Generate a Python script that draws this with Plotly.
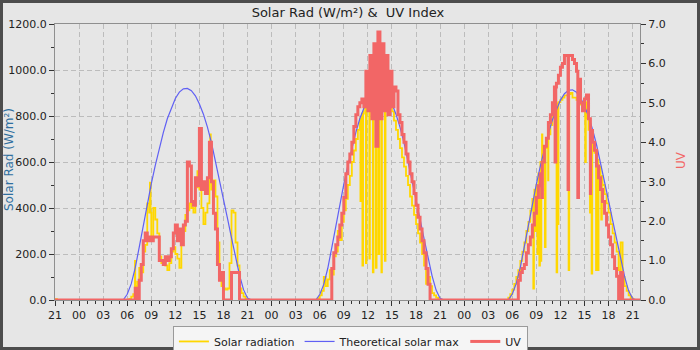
import plotly.graph_objects as go
import pandas as pd

# ---------------- data ----------------
START = "2024-06-20 21:00"
END = "2024-06-23 21:55"

# theoretical solar max (W/m²), 30-min steps from 05:30 to 21:30
theo_start = ["2024-06-21 05:30", "2024-06-22 05:30", "2024-06-23 05:30"]
theo_day1 = [0, 25, 70, 140, 230, 325, 420, 505, 585, 660, 728, 788, 836, 876, 904, 918,
             920, 910, 888, 852, 808, 752, 684, 605, 525, 440, 355, 270, 185, 108, 45, 8, 0]
theo_day2 = [0, 24, 68, 138, 228, 323, 418, 504, 584, 660, 729, 789, 838, 878, 906, 920,
             922, 912, 889, 853, 808, 752, 684, 604, 523, 438, 352, 267, 182, 105, 43, 7, 0]
theo_day3 = [0, 26, 72, 142, 232, 326, 420, 504, 583, 657, 724, 783, 830, 869, 897, 912,
             914, 903, 880, 843, 798, 742, 675, 597, 517, 432, 347, 262, 178, 102, 40, 6, 0]

# solar radiation (W/m²): 15-min readings plus short 5-min excursions (cloud dips / spikes)
solar_start = ["2024-06-20 21:00", "2024-06-21 06:00", "2024-06-22 05:30", "2024-06-23 05:15"]
solar_day0 = [4, 0]
solar_day1 = [0, 5, 15, 25,            # 06
              60, 80, 140, 120,        # 07
              210, 240, 420, 380,      # 08
              260, 400, 350, 290,      # 09
              190, 160, 170, 150,      # 10
              130, 160, 210, 230,      # 11
              200, 180, 140, 280,      # 12
              300, 370, 390, 420,      # 13
              400, 380, 490, 560,      # 14
              480, 400, 330, 380,      # 15
              420, 520, 480, 520,      # 16
              450, 250, 90, 60,        # 17
              50, 45, 50, 160,         # 18
              390, 380, 250, 150,      # 19
              50, 30, 15, 5,           # 20
              0]
solar_day2 = [0, 8,                    # 05:30
              20, 40, 100, 60,         # 06
              90, 130, 110, 190,       # 07
              210, 300, 260, 340,      # 08
              390, 440, 500, 540,      # 09
              600, 650, 700, 740,      # 10
              790, 810, 850, 930,      # 11
              870, 960, 900, 1000,     # 12
              880, 940, 900, 980,      # 13
              880, 900, 860, 840,      # 14
              820, 780, 740, 700,      # 15
              660, 620, 580, 540,      # 16
              500, 450, 410, 370,      # 17
              330, 290, 250, 200,      # 18
              150, 70, 100, 60,        # 19
              30, 20, 10, 3,           # 20
              0]
solar_day3 = [0, 10, 25,               # 05:15
              45, 70, 100, 130,        # 06
              170, 210, 250, 300,      # 07
              340, 390, 440, 480,      # 08
              500, 550, 600, 640,      # 09
              660, 700, 720, 760,      # 10
              830, 850, 855, 860,      # 11
              870, 880, 890, 890,      # 12
              895, 900, 880, 880,      # 13
              870, 860, 850, 830,      # 14
              860, 790, 740, 720,      # 15
              680, 640, 610, 580,      # 16
              540, 500, 460, 420,      # 17
              380, 330, 290, 250,      # 18
              210, 130, 250, 100,      # 19
              60, 40, 20, 8,           # 20
              0]
solar_excursions_day1 = [("06:58", 170), ("08:50", 510), ("14:57", 740), ("16:20", 720)]
solar_excursions_day2 = [("11:04", 430), ("11:19", 150), ("11:45", 160), ("12:11", 180),
                         ("12:37", 120), ("13:00", 140), ("13:10", 1090), ("13:20", 200),
                         ("13:41", 120), ("14:07", 170)]
solar_excursions_day3 = [("08:37", 50), ("08:55", 300), ("09:08", 200), ("09:22", 150),
                         ("09:32", 170), ("09:42", 720), ("10:04", 230), ("10:28", 520),
                         ("11:31", 120), ("11:43", 330), ("13:01", 130), ("15:05", 600),
                         ("15:41", 380), ("15:53", 115), ("16:26", 130), ("16:43", 130),
                         ("17:05", 350)]

# UV index: 15-min readings plus short 5-min dips
uv_start = ["2024-06-21 06:00", "2024-06-22 07:00", "2024-06-23 06:30"]
uv_day1 = [0, 0, 0, 0,                 # 06
           0.3, 0, 0.5, 0.9,           # 07
           1.5, 1.7, 1.5, 1.6,         # 08
           1.5, 1.6, 1.6, 1.6,         # 09
           1.0, 1.0, 0.9, 1.1,         # 10
           1.0, 1.1, 1.3, 1.7,         # 11
           1.9, 1.5, 1.8, 1.4,         # 12
           1.9, 2.0, 3.5, 3.4,         # 13
           2.5, 2.4, 3.1, 2.9,         # 14
           4.35, 2.8, 3.0, 2.7,        # 15
           3.1, 4.0, 3.0, 2.2,         # 16
           1.8, 0.9, 0.5, 0.7,         # 17
           0, 0, 0, 0,                 # 18
           0.7, 0.7, 0.7, 0.7,         # 19
           0, 0, 0, 0,                 # 20
           0]
uv_day2 = [0, 0, 0.8, 1.2,             # 07
           1.4, 1.6, 1.9, 2.2,         # 08
           2.6, 3.2, 3.5, 3.7,         # 09
           4.0, 4.4, 4.7, 4.9,         # 10
           5.0, 5.1, 4.9, 5.8,         # 11
           4.8, 6.2, 4.6, 6.5,         # 12
           3.9, 6.8, 4.6, 6.5,         # 13
           4.8, 6.2, 4.7, 5.8,         # 14
           4.9, 5.4, 5.3, 4.7,         # 15
           4.5, 4.2, 4.0, 3.7,         # 16
           3.5, 3.2, 3.0, 2.7,         # 17
           2.4, 2.1, 1.8, 1.5,         # 18
           1.2, 0.8, 0.4, 0,           # 19
           0]
uv_day3 = [0, 0.5,                     # 06:30
           0.7, 0.8, 0.9, 1.2,         # 07
           1.4, 1.6, 1.9, 2.2,         # 08
           2.6, 2.9, 3.2, 3.5,         # 09
           3.9, 4.1, 4.5, 4.7,         # 10
           5.0, 5.4, 5.5, 5.7,         # 11
           5.9, 6.0, 6.2, 6.2,         # 12
           6.2, 6.2, 6.1, 6.0,         # 13
           5.8, 5.6, 5.0, 4.8,         # 14
           5.1, 5.2, 4.6, 4.3,         # 15
           4.0, 3.8, 3.4, 3.1,         # 16
           2.8, 2.5, 2.2, 1.9,         # 17
           1.6, 1.4, 1.1, 0.8,         # 18
           0.6, 0, 0.7, 0,             # 19
           0]
uv_dips_day3 = [("09:40", 2.6), ("11:20", 3.5), ("12:57", 2.8), ("14:10", 2.6), ("15:44", 2.7)]


# ---------------- build series ----------------
def with_excursions(start, vals, excursions=(), freq="15min", length_min=5):
    base = pd.Series(vals, index=pd.date_range(start, periods=len(vals), freq=freq), dtype=float)
    day = base.index[0].strftime("%Y-%m-%d")
    extra = {}
    for hhmm, v in excursions:
        t0 = pd.Timestamp(f"{day} {hhmm}")
        extra[t0] = v
    for hhmm, v in excursions:
        t1 = pd.Timestamp(f"{day} {hhmm}") + pd.Timedelta(minutes=length_min)
        if t1 not in base.index and t1 not in extra:
            extra[t1] = base[base.index <= t1].iloc[-1]
    merged = base.drop(index=[k for k in extra if k in base.index])
    merged = pd.concat([merged, pd.Series(extra, dtype=float)]).sort_index()
    return list(merged.index), list(merged.values)


def join(parts, gaps=True):
    xs, ys = [], []
    for px, py in parts:
        xs.extend(px)
        ys.extend(py)
        if gaps:
            xs.append(px[-1] + pd.Timedelta(minutes=1))
            ys.append(None)
    return xs, ys


theo_x, theo_y = join([with_excursions(s, v, freq="30min")
                       for s, v in zip(theo_start, [theo_day1, theo_day2, theo_day3])])
solar_x, solar_y = join([
    with_excursions(solar_start[0], solar_day0),
    with_excursions(solar_start[1], solar_day1, solar_excursions_day1),
    with_excursions(solar_start[2], solar_day2, solar_excursions_day2),
    with_excursions(solar_start[3], solar_day3, solar_excursions_day3),
])
uv_x, uv_y = join([
    with_excursions(uv_start[0], uv_day1),
    with_excursions(uv_start[1], uv_day2),
    with_excursions(uv_start[2], uv_day3, uv_dips_day3),
], gaps=False)
uv_x = [pd.Timestamp(START)] + uv_x + [pd.Timestamp(END)]
uv_y = [0] + uv_y + [0]

YELLOW = "#ffd700"
BLUE = "#6060f4"
RED = "#f26666"
FONT = "DejaVu Sans"

fig = go.Figure()
fig.add_trace(go.Scatter(
    x=uv_x, y=uv_y, name="UV", yaxis="y2", mode="lines",
    line=dict(color=RED, width=3, shape="hv"), legendrank=3))
fig.add_trace(go.Scatter(
    x=solar_x, y=solar_y, name="Solar radiation", mode="lines",
    line=dict(color=YELLOW, width=1.8, shape="hv"), connectgaps=False, legendrank=1))
fig.add_trace(go.Scatter(
    x=theo_x, y=theo_y, name="Theoretical solar max", mode="lines",
    line=dict(color=BLUE, width=1.2), connectgaps=False, legendrank=2))

axis_common = dict(
    showline=True, linecolor="#8f8f8f", linewidth=1,
    ticks="outside", ticklen=5, tickcolor="#333", tickwidth=1,
    tickfont=dict(family=FONT, size=11, color="#222"),
    zeroline=False,
)

fig.update_layout(
    width=700, height=350,
    margin=dict(l=55, r=60, t=24, b=50, autoexpand=False),
    paper_bgcolor="#e6e6e6", plot_bgcolor="#e6e6e6",
    font=dict(family=FONT, size=11, color="#222"),
    title=dict(text="Solar Rad (W/m²) & \u00a0UV Index", x=0.497, xanchor="center",
               y=1 - 12 / 350, yanchor="middle", yref="container",
               font=dict(family=FONT, size=13, color="#222")),
    xaxis=dict(
        type="date", range=[START, END], tick0=START, dtick=3 * 3600 * 1000,
        tickformat="%H", showgrid=True, gridcolor="#bcbcbc", griddash="5px,3px",
        mirror=True,
        minor=dict(dtick=3600 * 1000, ticklen=3, tickcolor="#333", showgrid=False, ticks="outside"),
        **axis_common),
    yaxis=dict(
        range=[0, 1200], dtick=200, tickformat=".1f",
        showgrid=True, gridcolor="#bcbcbc", griddash="5px,3px",
        minor=dict(dtick=100, ticklen=3, tickcolor="#333", showgrid=False, ticks="outside"),
        **axis_common),
    yaxis2=dict(
        overlaying="y", side="right", range=[0, 7], dtick=1, tickformat=".1f",
        showgrid=False,
        minor=dict(dtick=0.5, ticklen=3, tickcolor="#333", showgrid=False, ticks="outside"),
        **axis_common),
    legend=dict(
        orientation="h", x=0.505, xanchor="center", y=-0.094, yanchor="top",
        bgcolor="#f5f5f5", bordercolor="#9a9a9a", borderwidth=1,
        font=dict(family=FONT, size=11, color="#222")),
    showlegend=True,
    annotations=[
        dict(text="Solar Rad (W/m²)", xref="paper", yref="paper",
             x=(9 - 55) / 585, y=(300 - 160) / 276, xanchor="center", yanchor="middle",
             textangle=-90, showarrow=False, font=dict(family=FONT, size=12, color="#2f6f9f")),
        dict(text="UV", xref="paper", yref="paper",
             x=(681 - 55) / 585, y=(300 - 160) / 276, xanchor="center", yanchor="middle",
             textangle=-90, showarrow=False, font=dict(family=FONT, size=12, color=RED)),
    ],
    shapes=[
        dict(type="rect", xref="paper", yref="paper", layer="above",
             x0=(1.5 - 55) / 585, x1=(698.5 - 55) / 585,
             y0=(300 - 348.5) / 276, y1=(300 - 1.5) / 276,
             line=dict(color="#4d4d4d", width=3), fillcolor="rgba(0,0,0,0)"),
    ],
)

fig.write_html("out.html")
